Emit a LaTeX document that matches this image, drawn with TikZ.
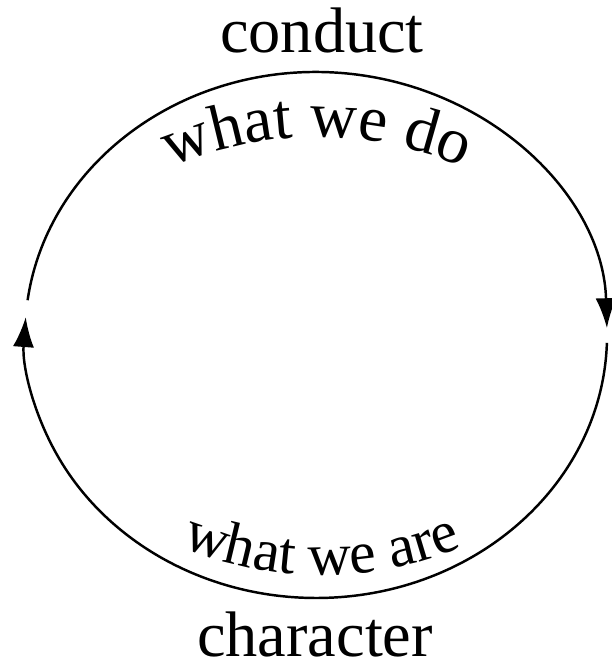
\documentclass[tikz,border=0pt]{standalone}
\usepackage{fontspec}
\setmainfont{Liberation Serif}
\usetikzlibrary{arrows.meta,decorations.text}
\newcommand{\labelsize}{\fontsize{18.3}{22}\selectfont}
\newcommand{\arcsize}{\fontsize{18.5}{22}\selectfont}
\newcommand{\arcsizelow}{\fontsize{17}{20}\selectfont}

\begin{document}
\begin{tikzpicture}[x=0.01cm,y=0.01cm,
  cycleline/.style={line width=0.7pt,-{Latex[length=8.5pt,width=6pt]}},
  endlabel/.style={font=\labelsize,anchor=base,inner sep=0pt}]
  \useasboundingbox (0,0) rectangle (611,660);
  % Ellipse: centre (316,325), radii 291 and 263
  \coordinate (leftgap) at (27.6,359.8);
  \coordinate (rightgap) at (606.9,317.2);
  % Labels
  \node[endlabel] (conduct) at (322,607) {conduct};
  \node[endlabel] (character) at (315,3) {character};
  % Upper arc, down the right side
  \draw[cycleline] (leftgap) arc[start angle=172.4,end angle=1.5,x radius=291,y radius=263];
  % Lower arc, up the left side
  \draw[cycleline] (rightgap) arc[start angle=-1.7,end angle=-183.9,x radius=291,y radius=263];
  % Texts along the inside
  \path[decorate,decoration={text along path,text align=center,text={|\arcsize|what we do}}]
    (317,159) ++(120:364) arc[start angle=120,end angle=60,radius=364];
  \path[decorate,decoration={text along path,text align=center,text={|\arcsizelow|what we are}}]
    (322,451) ++(240:366) arc[start angle=240,end angle=300,radius=366];
\end{tikzpicture}
\end{document}
